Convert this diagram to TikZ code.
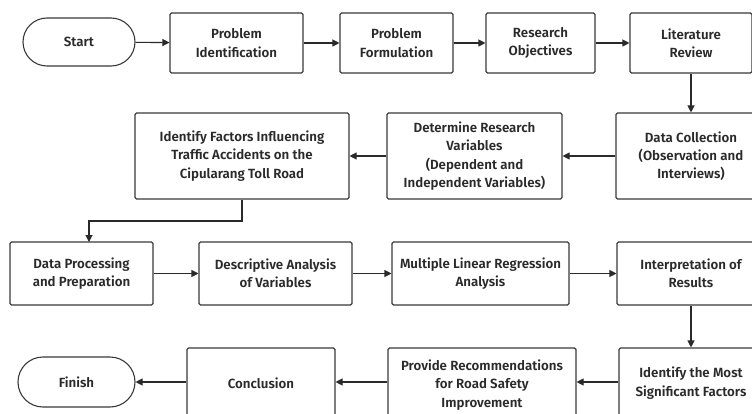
\documentclass[tikz,border=0pt]{standalone}
\usepackage{fontspec}
\setmainfont{Fira Sans}[UprightFont={* SemiBold}]
\usetikzlibrary{arrows.meta}
\definecolor{ink}{HTML}{2A2A2A}
\definecolor{edge}{HTML}{3A3A3A}
\tikzset{
  box/.style={draw=edge, line width=1.1pt, rounded corners=1.5pt, align=center,
    text=ink, font=\fontsize{13.3}{18.3}\selectfont, inner sep=0pt},
  term/.style={box, rounded corners=24pt},
  flow/.style={draw=ink, line width=1.1pt, -{Triangle[length=7pt,width=7pt]}},
}
\begin{document}
\begin{tikzpicture}[x=1pt,y=-1pt]
\clip (0,0) rectangle (752,414);
\fill[white] (0,0) rectangle (752,414);
% row 1
\node[term, minimum width=112, minimum height=48] (start) at (79,42) {Start};
\node[box, minimum width=133, minimum height=60] (pi) at (236.5,43) {Problem\\Identification};
\node[box, minimum width=113, minimum height=60] (pf) at (396.5,43) {Problem\\Formulation};
\node[box, minimum width=109, minimum height=60] (ro) at (540.5,43) {Research\\Objectives};
\node[box, minimum width=122, minimum height=60] (lr) at (691,43) {Literature\\Review};
% row 2
\node[box, minimum width=214, minimum height=86] (if) at (242,156) {Identify Factors Influencing\\Traffic Accidents on the\\Cipularang Toll Road};
\node[box, minimum width=175, minimum height=86] (drv) at (474.5,156) {Determine Research\\Variables\\(Dependent and\\Independent Variables)};
\node[box, minimum width=150, minimum height=86] (dc) at (691,156) {Data Collection\\(Observation and\\Interviews)};
% row 3
\node[box, minimum width=143, minimum height=63] (dp) at (81.5,273.5) {Data Processing\\and Preparation};
\node[box, minimum width=153, minimum height=63] (da) at (275.5,273.5) {Descriptive Analysis\\of Variables};
\node[box, minimum width=177, minimum height=63] (mlr) at (480.5,273.5) {Multiple Linear Regression\\Analysis};
\node[box, minimum width=148, minimum height=63] (ir) at (691,273.5) {Interpretation of\\Results};
% row 4
\node[term, minimum width=117, minimum height=50, rounded corners=25pt] (fin) at (76.5,382) {Finish};
\node[box, minimum width=148, minimum height=70] (con) at (261,383) {Conclusion};
\node[box, minimum width=188, minimum height=74] (pr) at (482,385) {Provide Recommendations\\for Road Safety\\Improvement};
\node[box, minimum width=144, minimum height=70] (im) at (691,383) {Identify the Most\\Significant Factors};
% connectors
\draw[flow] (start) -- (pi);
\draw[flow] (pi) -- (pf);
\draw[flow] (pf) -- (ro);
\draw[flow] (ro) -- (lr);
\draw[flow] (lr) -- (dc);
\draw[flow] (dc) -- (drv);
\draw[flow] (drv) -- (if);
\coordinate (bend) at (242,221);
\coordinate (dpin) at (89,242);
\draw[flow] (if.south) -- (bend) -| (dpin);
\draw[flow] (dp) -- (da);
\draw[flow] (da) -- (mlr);
\draw[flow] (mlr) -- (ir);
\draw[flow] (ir) -- (im);
\draw[flow] (im.west |- 0,382) -- (pr.east |- 0,382);
\draw[flow] (pr.west |- 0,382) -- (con.east |- 0,382);
\draw[flow] (con.west |- 0,382) -- (fin.east);
\end{tikzpicture}
\end{document}
